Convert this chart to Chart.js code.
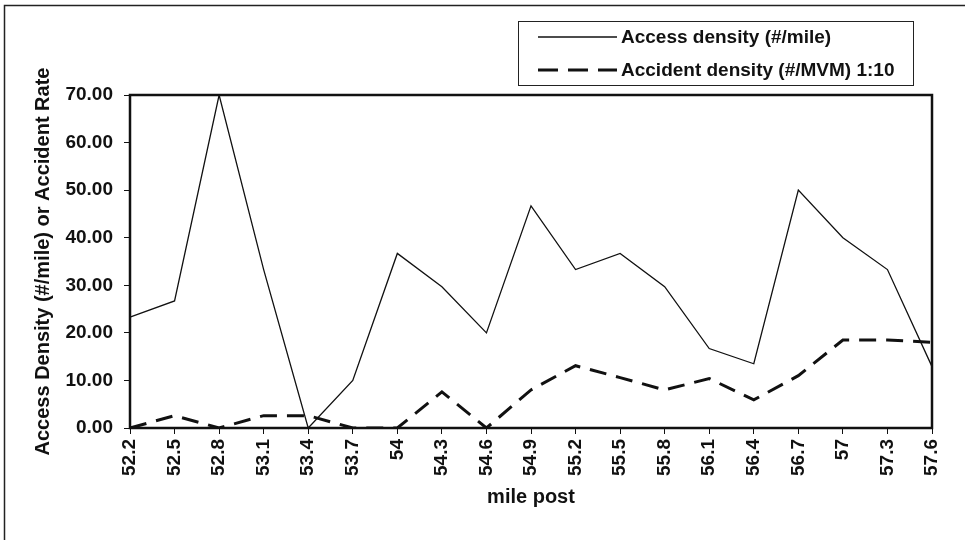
<!DOCTYPE html>
<html>
<head>
<meta charset="utf-8">
<script src="https://cdn.jsdelivr.net/npm/chart.js@4/dist/chart.umd.min.js"></script>
<style>
  html, body { margin: 0; padding: 0; background: #fff; }
  canvas { display: block; }
</style>
</head>
<body>
<canvas id="c" width="965" height="540"></canvas>
<script>
// ---- data ----
const milePosts = ['52.2','52.5','52.8','53.1','53.4','53.7','54','54.3','54.6','54.9','55.2','55.5','55.8','56.1','56.4','56.7','57','57.3','57.6'];
const accessDensity = [23.3, 26.7, 70.0, 33.3, 0.0, 10.0, 36.7, 29.7, 20.0, 46.7, 33.3, 36.7, 29.7, 16.7, 13.5, 50.0, 40.0, 33.3, 12.9];
const accidentDensity = [0.0, 2.6, 0.0, 2.6, 2.6, 0.0, 0.0, 7.6, 0.0, 8.0, 13.1, 10.6, 8.0, 10.4, 5.9, 11.0, 18.5, 18.5, 18.0];
const seriesLabels = ['Access density (#/mile)', 'Accident density (#/MVM) 1:10'];
const xTitle = 'mile post';
const yTitle = 'Access Density (#/mile) or Accident Rate';
const yMin = 0, yMax = 70, yStep = 10;

const FONT = '"Liberation Sans", Arial, sans-serif';
const INK = '#111';

const framePlugin = {
  id: 'frame',
  beforeDraw(chart) {
    const ctx = chart.ctx;
    ctx.save();
    ctx.fillStyle = '#fff';
    ctx.fillRect(0, 0, chart.width, chart.height);
    ctx.restore();
  },
  afterDraw(chart) {
    const ctx = chart.ctx;
    const a = chart.chartArea;
    ctx.save();
    // outer frame (top and left visible)
    ctx.strokeStyle = '#222';
    ctx.lineWidth = 1.5;
    ctx.beginPath();
    ctx.moveTo(4.5, chart.height);
    ctx.lineTo(4.5, 5.5);
    ctx.lineTo(chart.width, 5.5);
    ctx.stroke();
    // plot area box
    ctx.strokeStyle = INK;
    ctx.lineWidth = 2.5;
    ctx.strokeRect(a.left, a.top, a.right - a.left, a.bottom - a.top);
    // legend
    const lx = 518, ly = 21, lw = 395, lh = 64;
    ctx.lineWidth = 1;
    ctx.strokeStyle = '#222';
    ctx.strokeRect(lx + 0.5, ly + 0.5, lw, lh);
    const rows = [37, 70];
    const legendDash = [[], [20, 10]];
    chart.data.datasets.forEach((ds, i) => {
      const y = rows[i];
      ctx.beginPath();
      ctx.lineWidth = ds.borderWidth;
      ctx.strokeStyle = ds.borderColor;
      ctx.setLineDash(legendDash[i]);
      ctx.moveTo(538, y);
      ctx.lineTo(617, y);
      ctx.stroke();
      ctx.setLineDash([]);
      ctx.fillStyle = INK;
      ctx.font = 'bold 19px ' + FONT;
      ctx.textBaseline = 'middle';
      ctx.textAlign = 'left';
      ctx.fillText(ds.label, 621, y + 1);
    });
    ctx.restore();
  }
};

new Chart(document.getElementById('c'), {
  type: 'line',
  data: {
    labels: milePosts,
    datasets: [
      {
        label: seriesLabels[0],
        data: accessDensity,
        borderColor: INK,
        borderWidth: 1.3,
        pointRadius: 0,
        tension: 0,
        fill: false
      },
      {
        label: seriesLabels[1],
        data: accidentDensity,
        borderColor: INK,
        borderWidth: 3,
        borderDash: [17, 10],
        pointRadius: 0,
        tension: 0,
        fill: false
      }
    ]
  },
  options: {
    responsive: false,
    animation: false,
    devicePixelRatio: 1,
    layout: { padding: { top: 95, right: 33, left: 0, bottom: 0 } },
    plugins: { legend: { display: false }, tooltip: { enabled: false } },
    scales: {
      x: {
        offset: false,
        grid: { drawOnChartArea: false, drawTicks: true, tickLength: 6, color: INK, lineWidth: 1 },
        border: { display: false },
        ticks: {
          color: INK, minRotation: 90, maxRotation: 90, autoSkip: false, padding: 5,
          font: { family: FONT, size: 19, weight: 'bold' }
        },
        title: {
          display: true, text: xTitle, color: INK, padding: { top: 0, bottom: 31 },
          font: { family: FONT, size: 20, weight: 'bold' }
        },
        afterFit(scale) { scale.height = 112; scale.paddingLeft = 0; scale.paddingRight = 0; }
      },
      y: {
        min: yMin, max: yMax,
        grid: { drawOnChartArea: false, drawTicks: true, tickLength: 6, color: INK, lineWidth: 1 },
        border: { display: false },
        ticks: {
          stepSize: yStep, color: INK, padding: 11,
          font: { family: FONT, size: 19, weight: 'bold' },
          callback: (v) => Number(v).toFixed(2)
        },
        title: {
          display: true, text: yTitle, color: INK, padding: { top: 31, bottom: 0 },
          font: { family: FONT, size: 20, weight: 'bold' }
        },
        afterFit(scale) { scale.width = 130; scale.paddingTop = 0; scale.paddingBottom = 0; }
      }
    }
  },
  plugins: [framePlugin]
});
</script>
</body>
</html>
